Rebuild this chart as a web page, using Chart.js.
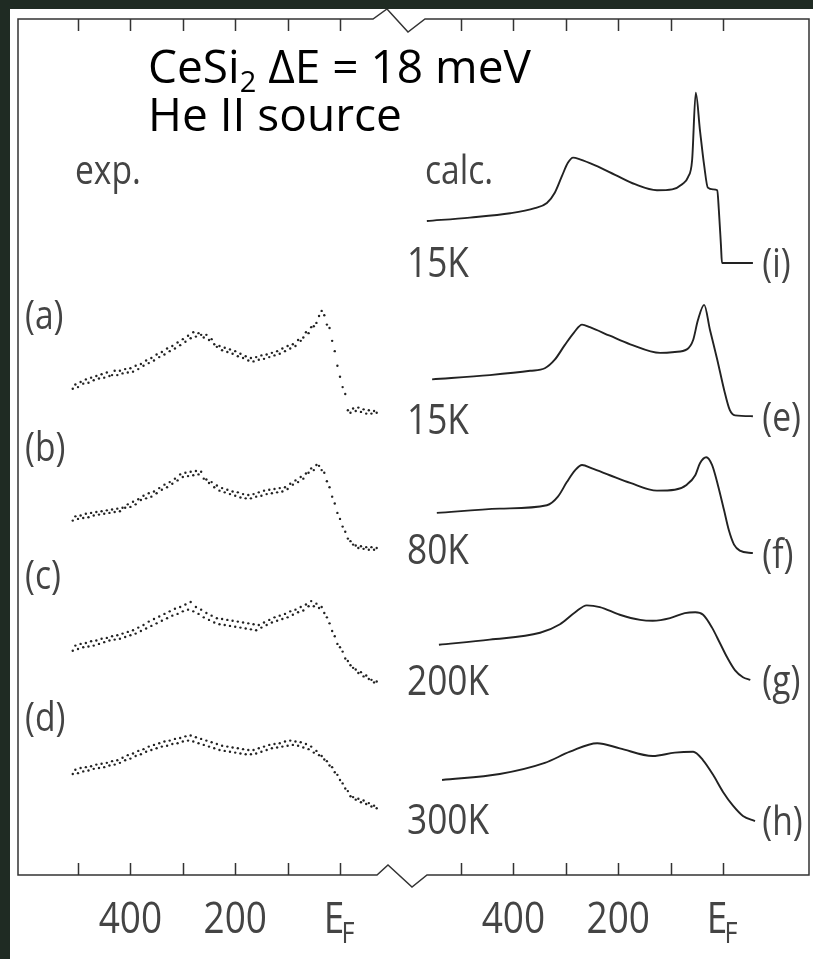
<!DOCTYPE html>
<html>
<head>
<meta charset="utf-8">
<title>CeSi2 photoemission spectra</title>
<script src="https://cdn.jsdelivr.net/npm/chart.js@4.4.0/dist/chart.umd.min.js"></script>
<style>
  html, body { margin: 0; padding: 0; }
  body { width: 813px; height: 959px; background: #1f2b23; position: relative; overflow: hidden; }
  #sheet { position: absolute; left: 10px; top: 9px; width: 803px; height: 950px; background: #fff; }
  canvas { display: block; }
</style>
</head>
<body>
<div id="sheet"><canvas id="spectra" width="803" height="950"></canvas></div>
<script>
// ---------- measured spectra (binding energy in meV, intensity in arb. units, offset for stacking) ----------
const expEnergy = [510, 505, 500, 495, 490, 485, 480, 475, 470, 465, 460, 455, 450, 445, 440, 435, 430, 425, 420, 415,
                   410, 405, 400, 395, 390, 385, 380, 375, 370, 365, 360, 355, 350, 345, 340, 335, 330, 325, 320, 315,
                   310, 305, 300, 295, 290, 285, 280, 275, 270, 265, 260, 255, 250, 245, 240, 235, 230, 225, 220, 215,
                   210, 205, 200, 195, 190, 185, 180, 175, 170, 165, 160, 155, 150, 145, 140, 135, 130, 125, 120, 115,
                   110, 105, 100, 95, 90, 85, 80, 75, 70, 65, 60, 55, 50, 45, 40, 35, 30, 25, 20, 15,
                   10, 5, 0, -5, -10, -15, -20, -25, -30, -35, -40, -45, -50, -55, -60, -65, -70];

// (a) 15 K
const exp15K = [56.8, 57.3, 57.0, 57.6, 57.4, 57.9, 57.5, 58.1, 57.8, 58.3, 58.0, 58.5, 58.1, 58.7, 58.3, 58.4, 58.9, 58.4, 58.9, 58.6,
                59.1, 58.7, 59.2, 58.8, 59.5, 59.1, 59.7, 59.5, 60.1, 59.8, 60.4, 60.1, 60.8, 60.5, 61.1, 60.8, 61.5, 61.2, 61.8, 61.5,
                62.2, 61.9, 62.6, 62.3, 63.0, 62.7, 63.4, 62.9, 63.3, 63.1, 62.8, 63.1, 62.5, 62.6, 62.0, 61.7, 61.8, 61.3, 61.6, 61.1,
                61.4, 60.9, 61.2, 60.6, 60.9, 60.4, 60.6, 60.1, 60.4, 60.0, 60.5, 60.2, 60.7, 60.3, 60.8, 60.5, 61.0, 60.7, 61.2, 60.9,
                61.5, 61.2, 61.8, 61.5, 62.0, 61.8, 62.5, 62.4, 62.8, 63.4, 63.3, 64.0, 64.1, 64.5, 65.3, 65.9, 65.4, 64.3, 63.9, 62.4,
                61.2, 59.5, 58.2, 57.0, 56.2, 54.3, 54.0, 54.5, 54.2, 54.6, 54.1, 54.4, 53.9, 54.3, 53.9, 54.2, 54.0];
// (b) 80 K
const exp80K = [41.4, 41.9, 41.6, 42.0, 41.7, 42.2, 41.8, 42.3, 42.0, 42.4, 42.1, 42.5, 42.2, 42.6, 42.3, 42.7, 42.4, 42.8, 42.5, 42.9,
                42.9, 43.3, 43.0, 43.6, 43.3, 43.9, 43.8, 44.3, 44.0, 44.6, 44.2, 44.8, 44.6, 45.2, 45.0, 45.6, 45.3, 45.9, 45.7, 46.3,
                46.1, 46.8, 46.5, 47.0, 46.6, 47.1, 46.7, 47.2, 46.8, 47.1, 46.3, 46.2, 45.8, 45.9, 45.3, 45.5, 44.9, 45.2, 44.7, 45.0,
                44.5, 44.8, 44.3, 44.7, 44.1, 44.5, 44.0, 44.4, 44.0, 44.5, 44.2, 44.7, 44.3, 44.9, 44.5, 45.0, 44.6, 45.1, 44.7, 45.2,
                44.8, 45.3, 45.1, 45.7, 45.6, 46.1, 45.9, 46.5, 46.3, 46.9, 47.0, 47.5, 47.3, 47.9, 47.8, 47.3, 47.0, 46.0, 45.3, 44.2,
                43.4, 42.3, 41.6, 40.7, 40.1, 39.3, 39.0, 38.6, 38.5, 38.2, 38.4, 38.1, 38.3, 38.0, 38.3, 38.0, 38.2];
// (c) 200 K
const exp200K = [26.2, 26.8, 26.4, 27.0, 26.6, 27.1, 26.7, 27.3, 26.8, 27.4, 27.0, 27.6, 27.2, 27.7, 27.4, 27.9, 27.5, 28.0, 27.6, 28.2,
                 27.8, 28.4, 28.0, 28.6, 28.2, 28.9, 28.5, 29.2, 28.8, 29.6, 29.1, 29.9, 29.4, 30.2, 29.7, 30.5, 30.0, 30.8, 30.3, 31.1,
                 30.5, 31.3, 30.8, 31.6, 31.0, 31.9, 30.8, 31.3, 30.5, 31.0, 30.1, 30.6, 29.8, 30.3, 29.5, 30.0, 29.3, 29.9, 29.2, 29.8,
                 29.1, 29.7, 29.0, 29.6, 28.9, 29.5, 28.8, 29.4, 28.7, 29.3, 28.6, 29.2, 28.9, 29.5, 29.2, 29.8, 29.5, 30.1, 29.7, 30.3,
                 29.9, 30.5, 30.1, 30.8, 30.4, 31.0, 30.7, 31.3, 30.9, 31.6, 31.4, 32.0, 31.4, 31.7, 31.2, 31.3, 30.6, 30.1, 29.4, 28.5,
                 27.9, 27.0, 26.6, 26.1, 25.3, 25.0, 24.5, 24.2, 24.0, 23.6, 23.7, 23.2, 23.3, 22.9, 22.8, 22.5, 22.6];
// (d) 300 K
const exp300K = [11.8, 12.3, 11.9, 12.5, 12.1, 12.6, 12.2, 12.7, 12.4, 12.9, 12.5, 13.0, 12.6, 13.1, 12.8, 13.3, 12.9, 13.4, 13.1, 13.7,
                 13.4, 14.0, 13.6, 14.2, 13.9, 14.5, 14.1, 14.7, 14.4, 15.0, 14.6, 15.2, 14.8, 15.4, 15.0, 15.6, 15.1, 15.7, 15.3, 15.9,
                 15.4, 16.0, 15.6, 16.2, 15.7, 16.3, 15.6, 16.1, 15.4, 15.9, 15.2, 15.7, 15.0, 15.5, 14.8, 15.3, 14.6, 15.1, 14.5, 15.0,
                 14.4, 14.9, 14.3, 14.8, 14.2, 14.7, 14.1, 14.6, 14.1, 14.6, 14.2, 14.8, 14.4, 15.0, 14.6, 15.2, 14.8, 15.3, 14.9, 15.4,
                 15.0, 15.6, 15.1, 15.7, 15.2, 15.6, 15.1, 15.5, 14.9, 15.3, 14.7, 15.0, 14.3, 14.5, 14.0, 13.9, 13.5, 13.3, 12.8, 12.6,
                 12.0, 11.7, 11.1, 10.7, 10.1, 9.8, 9.2, 9.1, 8.8, 8.9, 8.5, 8.7, 8.3, 8.4, 8.0, 8.1, 7.8];

// ---------- calculated spectra, [energy meV, intensity] ----------
const calc15Ki = [[565, 76.4], [483, 76.8], [406, 77.3], [359, 77.9], [336, 78.5], [321, 79.7], [307, 81.7],
                  [296, 83.2], [286, 83.8], [273, 83.6], [244, 82.9], [206, 81.8], [168, 80.7], [126, 80.0],
                  [97, 80.1], [78, 80.7], [67, 81.5], [59, 83.5], [52, 91.4], [44, 87.0], [36, 82.9],
                  [29, 80.3], [19, 80.1], [11, 80.0], [8, 77.7], [4, 73.6], [2, 71.5], [-13, 71.5], [-57, 71.5]];
const calc15K = [[555, 57.9], [445, 58.4], [368, 58.9], [340, 59.2], [321, 60.2], [302, 61.9], [284, 63.4],
                 [269, 64.3], [254, 64.0], [216, 63.0], [177, 62.0], [120, 61.0], [92, 61.1], [69, 61.4],
                 [57, 62.5], [48, 64.8], [36, 66.6], [25, 63.7], [11, 60.2], [-2, 56.7], [-13, 54.3],
                 [-23, 53.7], [-57, 53.6]];
const calc80K = [[546, 42.3], [426, 42.8], [336, 43.2], [315, 44.2], [298, 45.9], [282, 47.3], [269, 47.9],
                 [250, 47.5], [216, 46.7], [177, 45.8], [126, 44.9], [92, 45.0], [69, 45.6], [53, 46.7],
                 [44, 48.1], [32, 48.8], [21, 47.9], [10, 45.6], [-2, 42.6], [-11, 40.3], [-21, 38.6],
                 [-32, 37.9], [-57, 37.6]];
const calc200K = [[542, 26.9], [445, 27.5], [349, 28.3], [311, 29.3], [282, 30.7], [260, 31.5], [235, 31.3],
                  [197, 30.4], [158, 29.8], [134, 29.7], [101, 30.0], [73, 30.6], [53, 30.7], [38, 30.4],
                  [21, 28.9], [6, 27.1], [-8, 25.4], [-23, 23.9], [-38, 23.1], [-52, 22.8]];
const calc300K = [[536, 11.1], [426, 11.8], [340, 13.1], [292, 14.4], [240, 15.4], [197, 14.8], [134, 13.9],
                  [92, 14.3], [57, 14.4], [38, 13.4], [19, 11.7], [0, 9.7], [-19, 8.1], [-38, 6.9], [-61, 6.3]];

// ---------- axes ----------
const tickEnergies = [500, 400, 300, 200, 100, 0];
const labelEnergies = [400, 200, 0];
const tickLabels = ['400', '200', 'EF'];

const expSeries = [exp15K, exp80K, exp200K, exp300K];
const calcSeries = [calc15Ki, calc15K, calc80K, calc200K, calc300K];
const calcNames = ['(i)', '(e)', '(f)', '(g)', '(h)'];

const INK = '#222';
const LABEL_INK = '#444';
const LABEL_FACE = '"Open Sans", "DejaVu Sans", sans-serif';

const datasets = [];
expSeries.forEach(vals => {
    datasets.push({
        data: expEnergy.map((e, i) => ({ x: e, y: vals[i] })),
        xAxisID: 'x',
        showLine: false,
        pointRadius: 1.2,
        pointBorderWidth: 0,
        pointBackgroundColor: INK
    });
});
calcSeries.forEach(pts => {
    datasets.push({
        data: pts.map(p => ({ x: p[0], y: p[1] })),
        xAxisID: 'x2',
        showLine: true,
        borderColor: INK,
        borderWidth: 1.9,
        pointRadius: 0,
        cubicInterpolationMode: 'monotone'
    });
});

// narrow lettering like the drafting font of the figure
function drawNarrow(ctx, text, x, y, size, align) {
    ctx.save();
    ctx.font = size + 'px ' + LABEL_FACE;
    const w = ctx.measureText(text).width * 0.84;
    let left = x;
    if (align === 'center') left = x - w / 2;
    ctx.translate(left, y);
    ctx.scale(0.84, 1);
    ctx.textAlign = 'left';
    ctx.fillText(text, 0, 0);
    ctx.restore();
    return w;
}

// draws the broken frame, the ticks and all the text
const framePlugin = {
    id: 'frame',
    afterDraw(chart) {
        const { ctx, chartArea: a, scales } = chart;
        const xe = scales.x, xc = scales.x2, ys = scales.y;
        const L = a.left, R = a.right, T = a.top, B = a.bottom;

        ctx.save();
        ctx.strokeStyle = '#333';
        ctx.lineWidth = 1.5;

        // frame with the zig-zag break between the two panels
        ctx.beginPath();
        ctx.moveTo(L, B);
        ctx.lineTo(L, T);
        ctx.lineTo(L + 355, T);
        ctx.lineTo(L + 369, T - 10);
        ctx.lineTo(L + 390, T + 13);
        ctx.lineTo(L + 407, T);
        ctx.lineTo(R, T);
        ctx.lineTo(R, B);
        ctx.lineTo(L + 409, B);
        ctx.lineTo(L + 394, B + 12);
        ctx.lineTo(L + 370, B - 10);
        ctx.lineTo(L + 359, B);
        ctx.closePath();
        ctx.stroke();

        // ticks, top and bottom, both panels
        ctx.beginPath();
        [xe, xc].forEach(sc => {
            tickEnergies.forEach(e => {
                const px = Math.round(sc.getPixelForValue(e)) + 0.5;
                ctx.moveTo(px, T); ctx.lineTo(px, T + 12);
                ctx.moveTo(px, B); ctx.lineTo(px, B - 12);
            });
        });
        ctx.stroke();

        ctx.fillStyle = LABEL_INK;
        ctx.textBaseline = 'middle';

        // tick labels under the frame
        [xe, xc].forEach(sc => {
            labelEnergies.forEach((e, i) => {
                const px = sc.getPixelForValue(e);
                const ty = B + 45;
                if (tickLabels[i] === 'EF') {
                    drawNarrow(ctx, 'E', px - 6, ty, 44, 'center');
                    drawNarrow(ctx, 'F', px + 8, ty + 14, 30, 'center');
                } else {
                    drawNarrow(ctx, tickLabels[i], px, ty, 44, 'center');
                }
            });
        });

        // panel headings
        drawNarrow(ctx, 'exp.', 65, 164, 40);
        drawNarrow(ctx, 'calc.', 415, 164, 40);

        // letters of the measured curves
        [['(a)', 309], ['(b)', 441], ['(c)', 569], ['(d)', 711]].forEach(([t, ty]) => {
            drawNarrow(ctx, t, 15, ty, 40);
        });

        // temperatures
        [['15K', 256], ['15K', 413], ['80K', 543], ['200K', 674], ['300K', 813]].forEach(([t, ty]) => {
            drawNarrow(ctx, t, 397, ty, 42);
        });

        // letters at the end of the calculated curves
        calcSeries.forEach((pts, i) => {
            const last = pts[pts.length - 1];
            drawNarrow(ctx, calcNames[i], xc.getPixelForValue(-75), ys.getPixelForValue(last[1]) + 3, 40);
        });

        // header text
        ctx.fillStyle = '#000';
        ctx.textBaseline = 'alphabetic';
        ctx.textAlign = 'left';
        const hf = '"Open Sans", "Noto Sans", sans-serif';
        ctx.font = '46px ' + hf;
        let hx = 138;
        ctx.fillText('CeSi', hx, 74);
        hx += ctx.measureText('CeSi').width;
        ctx.font = '29px ' + hf;
        ctx.fillText('2', hx, 83);
        hx += ctx.measureText('2').width;
        ctx.font = '46px ' + hf;
        ctx.fillText(' ΔE = 18 meV', hx, 74);
        ctx.fillText('He II source', 138, 122);

        ctx.restore();
    }
};

new Chart(document.getElementById('spectra'), {
    type: 'scatter',
    data: { datasets },
    options: {
        responsive: false,
        animation: false,
        events: [],
        layout: { padding: { left: 8, right: 4, top: 10, bottom: 84 } },
        plugins: { legend: { display: false }, tooltip: { enabled: false } },
        scales: {
            x: { type: 'linear', reverse: true, min: -895, max: 614.5, display: false },
            x2: { type: 'linear', reverse: true, min: -164, max: 1345, display: false },
            y: { type: 'linear', min: 0, max: 100, display: false }
        }
    },
    plugins: [framePlugin]
});
</script>
</body>
</html>
